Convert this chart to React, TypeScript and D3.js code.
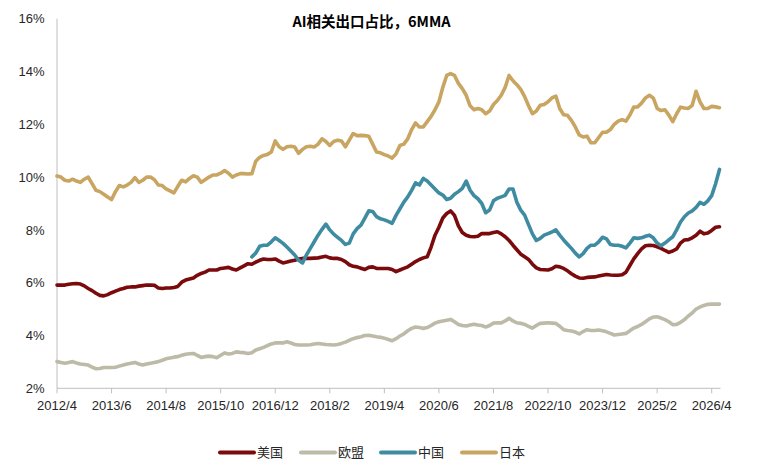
import React from "react";
import * as d3 from "d3";

// ---- data ----
const START_YEAR = 2012;
const START_MONTH = 4; // 2012/4
const X_TICK_LABELS = [
  "2012/4", "2013/6", "2014/8", "2015/10", "2016/12", "2018/2", "2019/4",
  "2020/6", "2021/8", "2022/10", "2023/12", "2025/2", "2026/4",
];
const Y_TICKS = [2, 4, 6, 8, 10, 12, 14, 16];
const SERIES_NAMES = ["美国", "欧盟", "中国", "日本"];
const SERIES_COLORS = ["#7A0A0C", "#BDBBA8", "#3F8CA2", "#C8A560"];

// 美国 (from 2012/4)
const US = [
  5.91, 5.91, 5.91, 5.94, 5.96, 5.97, 5.95, 5.88, 5.78, 5.7,
  5.6, 5.52, 5.5, 5.55, 5.62, 5.68, 5.74, 5.78, 5.83, 5.84,
  5.84, 5.87, 5.89, 5.91, 5.91, 5.9, 5.8, 5.78, 5.8, 5.8,
  5.82, 5.86, 6.02, 6.1, 6.14, 6.18, 6.28, 6.35, 6.4, 6.48,
  6.48, 6.48, 6.54, 6.56, 6.58, 6.52, 6.48, 6.56, 6.64, 6.72,
  6.7, 6.78, 6.85, 6.9, 6.88, 6.88, 6.9, 6.82, 6.75, 6.78,
  6.82, 6.85, 6.9, 6.92, 6.92, 6.92, 6.93, 6.94, 6.97, 7.0,
  6.94, 6.92, 6.92, 6.88, 6.8, 6.68, 6.62, 6.6, 6.55, 6.5,
  6.58, 6.6, 6.54, 6.54, 6.54, 6.54, 6.5, 6.42, 6.48, 6.54,
  6.6, 6.7, 6.8, 6.88, 6.94, 6.98, 7.35, 7.8, 8.1, 8.45,
  8.62, 8.72, 8.55, 8.15, 7.9, 7.8, 7.75, 7.74, 7.76, 7.86,
  7.86, 7.86, 7.9, 7.93, 7.85, 7.74, 7.6, 7.42, 7.25, 7.08,
  6.98, 6.88, 6.7, 6.56, 6.5, 6.49, 6.48, 6.53, 6.62, 6.6,
  6.54, 6.45, 6.34, 6.25, 6.18, 6.17, 6.2, 6.21, 6.22, 6.25,
  6.28, 6.31, 6.29, 6.28, 6.28, 6.3, 6.4, 6.65, 6.9, 7.1,
  7.28, 7.4, 7.42, 7.41, 7.36, 7.3, 7.22, 7.15, 7.2, 7.28,
  7.5, 7.62, 7.63, 7.7, 7.8, 7.95, 7.85, 7.88, 7.98, 8.1,
  8.12,
];

// 欧盟 (from 2012/4)
const EU = [
  3.01, 2.98, 2.95, 2.98, 3.01, 2.96, 2.92, 2.9, 2.88, 2.8,
  2.74, 2.75, 2.79, 2.79, 2.79, 2.8, 2.84, 2.88, 2.92, 2.95,
  2.98, 2.92, 2.88, 2.92, 2.95, 2.98, 3.01, 3.06, 3.12, 3.15,
  3.18, 3.2, 3.25, 3.29, 3.31, 3.32, 3.25, 3.17, 3.2, 3.22,
  3.2, 3.16, 3.25, 3.34, 3.3, 3.32, 3.38, 3.36, 3.35, 3.32,
  3.35, 3.45, 3.5, 3.55, 3.62, 3.68, 3.72, 3.72, 3.72, 3.76,
  3.72, 3.66, 3.64, 3.64, 3.64, 3.65, 3.68, 3.7, 3.68, 3.66,
  3.65, 3.64, 3.66, 3.7, 3.75, 3.82, 3.88, 3.92, 3.95, 4.0,
  4.01, 3.98, 3.95, 3.93, 3.9, 3.85, 3.8, 3.88, 3.98, 4.06,
  4.18, 4.27, 4.32, 4.3, 4.27, 4.3, 4.38, 4.47, 4.52, 4.55,
  4.58, 4.61, 4.52, 4.42, 4.38, 4.36, 4.4, 4.43, 4.4, 4.38,
  4.32, 4.38, 4.47, 4.48, 4.48, 4.55, 4.65, 4.55, 4.48, 4.46,
  4.42, 4.35, 4.28, 4.38, 4.46, 4.47, 4.48, 4.47, 4.46, 4.35,
  4.22, 4.19, 4.17, 4.13, 4.06, 4.15, 4.22, 4.19, 4.19, 4.21,
  4.18, 4.14, 4.08, 4.02, 4.04, 4.06, 4.08, 4.18, 4.28, 4.34,
  4.42, 4.52, 4.63, 4.7, 4.71, 4.66, 4.6, 4.52, 4.41, 4.42,
  4.5, 4.6, 4.74, 4.85, 5.0, 5.08, 5.14, 5.18, 5.19, 5.19,
  5.19,
];

// 中国 (starts at month index 50, i.e. 2016/6)
const CHINA_START_INDEX = 50;
const CHINA = [
  6.98, 7.12, 7.38, 7.42, 7.42, 7.55, 7.7, 7.6, 7.49, 7.35,
  7.2, 7.05, 6.85, 6.75, 7.05, 7.3, 7.55, 7.8, 8.02, 8.22,
  8.0, 7.84, 7.72, 7.6, 7.45, 7.5, 7.85, 8.05, 8.18, 8.45,
  8.72, 8.7, 8.5, 8.42, 8.38, 8.32, 8.25, 8.55, 8.8, 9.05,
  9.25, 9.5, 9.78, 9.7, 9.95, 9.85, 9.7, 9.55, 9.4, 9.32,
  9.15, 9.2, 9.35, 9.45, 9.57, 9.85, 9.5, 9.3, 9.18, 9.0,
  8.65, 8.75, 9.1, 9.2, 9.25, 9.31, 9.55, 9.55, 9.05, 8.75,
  8.56, 8.2, 7.85, 7.6, 7.68, 7.8, 7.86, 7.92, 8.0, 7.8,
  7.62, 7.46, 7.3, 7.12, 6.98, 7.1, 7.3, 7.42, 7.42, 7.55,
  7.72, 7.66, 7.45, 7.42, 7.42, 7.38, 7.32, 7.5, 7.7, 7.68,
  7.7, 7.76, 7.8, 7.7, 7.5, 7.4, 7.5, 7.62, 7.74, 8.0,
  8.3, 8.5, 8.64, 8.72, 8.85, 9.04, 8.97, 9.1, 9.3, 9.75,
  10.29,
];

// 日本 (from 2012/4)
const JAPAN = [
  10.04, 10.0, 9.88, 9.85, 9.92, 9.85, 9.8, 9.92, 10.0, 9.75,
  9.5, 9.45, 9.35, 9.25, 9.15, 9.45, 9.68, 9.63, 9.7, 9.8,
  9.98, 9.8, 9.88, 10.0, 10.0, 9.9, 9.7, 9.68, 9.55, 9.48,
  9.4, 9.65, 9.88, 9.82, 9.95, 10.05, 10.0, 9.8, 9.9, 10.0,
  10.08, 10.08, 10.15, 10.25, 10.15, 10.0, 10.08, 10.13, 10.13, 10.12,
  10.13, 10.6, 10.75, 10.82, 10.86, 10.95, 11.37, 11.15, 11.05, 11.15,
  11.17, 11.14, 10.9, 11.05, 11.15, 11.17, 11.14, 11.25, 11.45, 11.35,
  11.2, 11.35, 11.4, 11.37, 11.15, 11.4, 11.65, 11.57, 11.58, 11.57,
  11.55, 11.25, 10.95, 10.92, 10.85, 10.8, 10.72, 10.88, 11.2, 11.25,
  11.45, 11.8, 12.05, 11.9, 11.9, 12.1, 12.3, 12.55, 12.85, 13.4,
  13.85, 13.92, 13.85, 13.55, 13.35, 13.1, 12.7, 12.55, 12.6, 12.55,
  12.4, 12.5, 12.75, 12.9, 13.1, 13.4, 13.85, 13.65, 13.5, 13.32,
  13.05, 12.7, 12.4, 12.5, 12.72, 12.75, 12.85, 13.0, 13.07, 12.6,
  12.36, 12.34, 12.15, 11.9, 11.6, 11.52, 11.55, 11.3, 11.3, 11.5,
  11.7, 11.7, 11.8, 12.0, 12.12, 12.18, 12.12, 12.35, 12.65, 12.66,
  12.8, 13.0, 13.1, 13.0, 12.6, 12.52, 12.55, 12.35, 12.1, 12.4,
  12.65, 12.62, 12.6, 12.72, 13.25, 12.85, 12.6, 12.6, 12.68, 12.66,
  12.63,
];

const TITLE = "AI相关出口占比，6MMA";

type Pt = { i: number; v: number };

export default function App() {
  const W = 762;
  const H = 465;
  const nMonths = US.length;
  const months = d3.range(nMonths).map((i) => {
    const total = START_MONTH - 1 + i;
    return `${START_YEAR + Math.floor(total / 12)}/${(total % 12) + 1}`;
  });

  const x = d3.scaleLinear().domain([0, nMonths - 1]).range([57, 719.5]);
  const y = d3.scaleLinear().domain([2, 16]).range([388.3, 18.7]);

  const line = d3
    .line<Pt>()
    .x((d) => x(d.i))
    .y((d) => y(d.v));

  const toPts = (arr: number[], start = 0): Pt[] => arr.map((v, k) => ({ i: start + k, v }));
  const seriesPts: Pt[][] = [toPts(US), toPts(EU), toPts(CHINA, CHINA_START_INDEX), toPts(JAPAN)];

  const tickIdx = X_TICK_LABELS.map((lab) => months.indexOf(lab));
  const axisFont = "'Liberation Sans', Arial, sans-serif";
  const cjkFont = "'Noto Sans CJK SC', 'Noto Sans', sans-serif";

  const legendX = [219, 300, 380, 461];

  return (
    <svg
      width={W}
      height={H}
      viewBox={`0 0 ${W} ${H}`}
      style={{ position: "absolute", left: 0, top: 0, background: "#fff" }}
    >
      <text
        x={371.5}
        y={27}
        textAnchor="middle"
        fontFamily={cjkFont}
        fontWeight="bold"
        fontSize={14.5}
        fill="#000"
      >
        {TITLE}
      </text>

      {/* y axis */}
      <line x1={57} x2={57} y1={y(16)} y2={y(2)} stroke="#BFBFBF" strokeWidth={1} />
      {Y_TICKS.map((t) => (
        <text
          key={t}
          x={44.5}
          y={y(t)}
          dy="0.36em"
          textAnchor="end"
          fontFamily={axisFont}
          fontSize={13}
          fill="#262626"
        >
          {`${t}%`}
        </text>
      ))}

      {/* x axis */}
      <line x1={57} x2={720.5} y1={y(2)} y2={y(2)} stroke="#BFBFBF" strokeWidth={1} />
      {tickIdx.map((ti, k) => (
        <g key={k}>
          <line x1={x(ti)} x2={x(ti)} y1={y(2)} y2={y(2) + 5} stroke="#BFBFBF" strokeWidth={1} />
          <text
            x={x(ti)}
            y={y(2) + 17}
            dy="0.36em"
            textAnchor="middle"
            fontFamily={axisFont}
            fontSize={13}
            fill="#262626"
          >
            {X_TICK_LABELS[k]}
          </text>
        </g>
      ))}

      {/* series */}
      {seriesPts.map((pts, k) => (
        <path
          key={k}
          d={line(pts) || ""}
          fill="none"
          stroke={SERIES_COLORS[k]}
          strokeWidth={3.6}
          strokeLinejoin="round"
          strokeLinecap="round"
        />
      ))}

      {/* legend */}
      {SERIES_NAMES.map((name, k) => (
        <g key={name}>
          <line
            x1={legendX[k] + 1}
            x2={legendX[k] + 35}
            y1={452.5}
            y2={452.5}
            stroke={SERIES_COLORS[k]}
            strokeWidth={4}
            strokeLinecap="round"
          />
          <text
            x={legendX[k] + 38}
            y={452.5}
            dy="0.36em"
            fontFamily={cjkFont}
            fontSize={13}
            fill="#262626"
          >
            {name}
          </text>
        </g>
      ))}
    </svg>
  );
}
